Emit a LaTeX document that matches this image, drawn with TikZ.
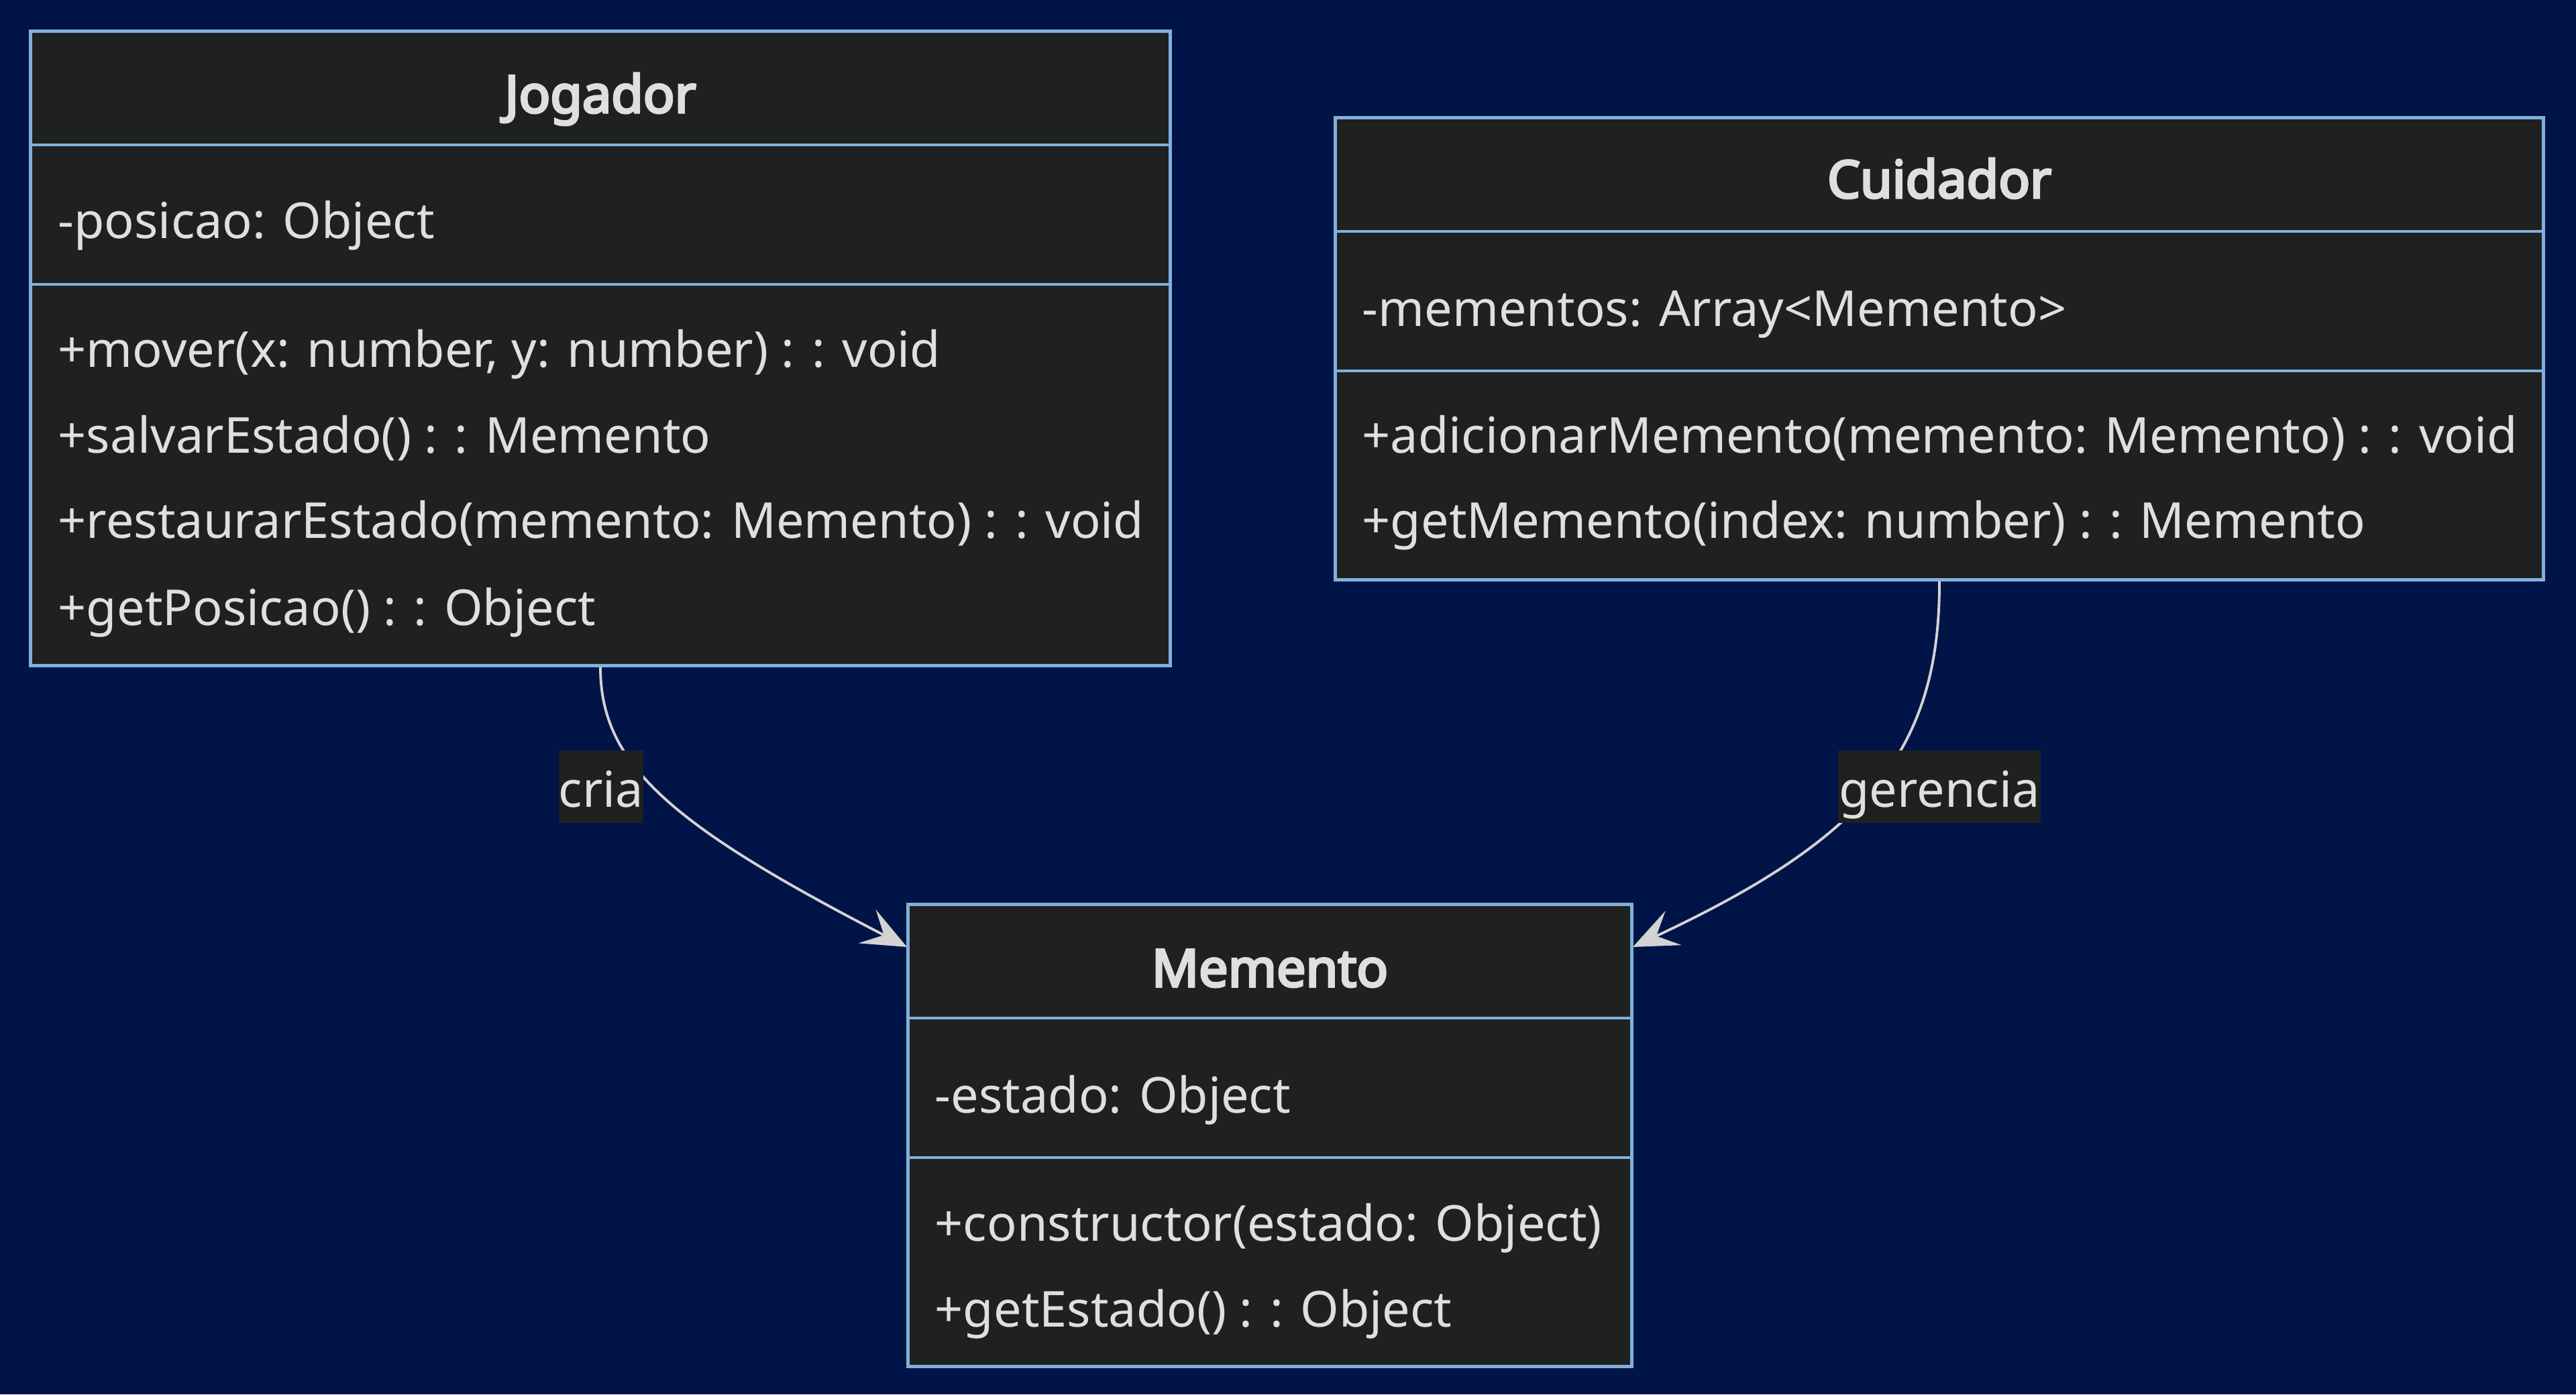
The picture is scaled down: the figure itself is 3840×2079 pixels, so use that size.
\documentclass[tikz,border=0pt]{standalone}
\usepackage{fontspec}
\setmainfont{Noto Sans}
\newfontfamily\titlefont{Noto Sans}[FakeBold=4.5]
\usetikzlibrary{arrows.meta}
\definecolor{bg}{HTML}{001447}
\definecolor{boxfill}{HTML}{1F2020}
\definecolor{boxline}{HTML}{81B1DB}
\definecolor{txt}{HTML}{E0DFDF}
\definecolor{edgecol}{HTML}{D3D3D3}
\tikzset{
  classbox/.style={draw=boxline, line width=1.4pt, fill=boxfill, inner sep=0pt},
  sepline/.style={draw=boxline, line width=1.4pt},
  member/.style={anchor=base west, text=txt, inner sep=0pt, font=\fontsize{21}{25}\selectfont},
  title/.style={anchor=base, text=txt, inner sep=0pt, font=\titlefont\fontsize{22}{26}\selectfont},
  rel/.style={draw=edgecol, line width=1.1pt, -{Stealth[length=19pt, width=16pt, inset=8pt]}},
  rellabel/.style={fill=boxfill, text=txt, inner sep=0pt, font=\fontsize{21}{25}\selectfont, text height=20pt, text depth=2.7pt, minimum height=1.08cm}
}
\begin{document}
\begin{tikzpicture}[x=0.01cm, y=-0.01cm]
\fill[bg] (0,0) rectangle (3840,2079);
\useasboundingbox (0,0) rectangle (3840,2079);

% Jogador
\node[classbox, minimum width=16.98cm, minimum height=9.45cm] (jog) at (895,519.5) {};
\draw[sepline] (jog.west |- 0,216) -- (jog.east |- 0,216);
\draw[sepline] (jog.west |- 0,424) -- (jog.east |- 0,424);
\node[title] (jogT) at (895,168) {Jogador};
\node[member] (jogA) at (86,356) {-posicao: Object};
\node[member] (jogM1) at (86,547) {+mover(x: number, y: number) : : void};
\node[member] (jogM2) at (86,675) {+salvarEstado() : : Memento};
\node[member] (jogM3) at (86,802) {+restaurarEstado(memento: Memento) : : void};
\node[member] (jogM4) at (86,932) {+getPosicao() : : Object};

% Cuidador
\node[classbox, minimum width=18.00cm, minimum height=6.88cm] (cui) at (2891,520) {};
\draw[sepline] (cui.west |- 0,345) -- (cui.east |- 0,345);
\draw[sepline] (cui.west |- 0,553) -- (cui.east |- 0,553);
\node[title] (cuiT) at (2891,295) {Cuidador};
\node[member] (cuiA) at (2030,486) {-mementos: Array<Memento>};
\node[member] (cuiM1) at (2030,675) {+adicionarMemento(memento: Memento) : : void};
\node[member] (cuiM2) at (2030,802) {+getMemento(index: number) : : Memento};

% Memento
\node[classbox, minimum width=10.78cm, minimum height=6.88cm] (mem) at (1893,1693) {};
\draw[sepline] (mem.west |- 0,1518) -- (mem.east |- 0,1518);
\draw[sepline] (mem.west |- 0,1726) -- (mem.east |- 0,1726);
\node[title] (memT) at (1893,1471) {Memento};
\node[member] (memA) at (1393,1659) {-estado: Object};
\node[member] (memM1) at (1393,1850) {+constructor(estado: Object)};
\node[member] (memM2) at (1393,1978) {+getEstado() : : Object};

% connectors
\coordinate (memL) at (1352,1412);
\coordinate (memR) at (2434,1412);
\draw[rel] (jog.south) .. controls (895,1140) and (1000,1230) .. (memL);
\draw[rel] (cui.south) .. controls (2892,1120) and (2780,1250) .. (memR);
\node[rellabel, minimum width=1.25cm] (lcria) at (896,1173) {cria};
\node[rellabel, minimum width=3.02cm] (lger) at (2891,1173) {gerencia};
\end{tikzpicture}
\end{document}
